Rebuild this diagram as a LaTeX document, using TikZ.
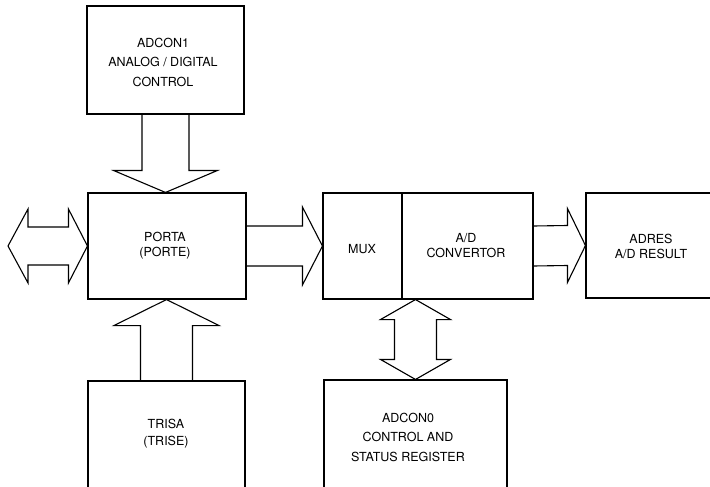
\documentclass[tikz,border=0pt]{standalone}
\usepackage{fontspec}
\setmainfont{TeX Gyre Heros}
\usetikzlibrary{calc}

\tikzset{
  regbox/.style={draw, rectangle, line width=1.1pt, inner sep=0pt},
  blk/.style={draw, line width=1.1pt, line join=miter},
  lbl/.style={align=center, inner sep=0pt, font=\fontsize{12.5}{15}\selectfont},
  lblwide/.style={lbl, font=\fontsize{12.5}{19.5}\selectfont},
}

\begin{document}
\begin{tikzpicture}[x=1pt, y=-1pt]
  \useasboundingbox (0,0) rectangle (710,487);
  \clip (0,0) rectangle (710,487);

  % register blocks (the lower ones and ADRES run off the sheet)
  \node[regbox, minimum width=157pt, minimum height=108pt] (adcon1) at (165.5,60) {};
  \node[regbox, minimum width=158pt, minimum height=106pt] (porta) at (167,246) {};
  \node[regbox, minimum width=79pt,  minimum height=106pt] (mux) at (362.5,246) {};
  \node[regbox, minimum width=131pt, minimum height=106pt] (adc) at (467.5,246) {};
  \node[regbox, minimum width=144pt, minimum height=105pt] (adres) at (658,245.5) {};
  \node[regbox, minimum width=183pt, minimum height=120pt] (adcon0) at (415.5,440) {};
  \node[regbox, minimum width=157pt, minimum height=119pt] (trisa) at (166.5,440.5) {};

  % labels
  \node[lblwide] (t-adcon1) at (163,62) {ADCON1\\ANALOG / DIGITAL\\CONTROL};
  \node[lbl] (t-porta) at (165,246) {PORTA\\(PORTE)};
  \node[lbl] (t-mux) at (362,249) {MUX};
  \node[lbl] (t-adc) at (466,246) {A/D\\CONVERTOR};
  \node[lbl] (t-adres) at (651,246) {ADRES\\A/D RESULT};
  \node[lbl, font=\fontsize{12.5}{17}\selectfont] (t-trisa) at (166,433.5) {TRISA\\(TRISE)};
  \node[lblwide] (t-adcon0) at (408,437) {ADCON0\\CONTROL AND\\STATUS REGISTER};

  % ADCON1 -> PORTA
  \coordinate (a1) at (adcon1.south);
  \coordinate (a2) at (adcon1.south |- porta.north);
  \draw[blk] ($(a1)+(-23.5,0)$) -- ($(a2)+(-23.5,-22)$) -- ($(a2)+(-52,-22)$) -- (a2)
    -- ($(a2)+(52,-22)$) -- ($(a2)+(23.5,-22)$) -- ($(a1)+(23.5,0)$);

  % TRISA -> PORTA
  \coordinate (b1) at (trisa.north);
  \coordinate (b2) at (trisa.north |- porta.south);
  \draw[blk] ($(b1)+(-26,0)$) -- ($(b2)+(-26,26)$) -- ($(b2)+(-52.5,26)$) -- (b2)
    -- ($(b2)+(52.5,26)$) -- ($(b2)+(26,26)$) -- ($(b1)+(26,0)$);

  % port pins <-> PORTA
  \coordinate (pins) at (8,246);
  \draw[blk] (pins) -- ($(pins)+(20,-37)$) -- ($(pins)+(20,-19)$) -- ($(porta.west)+(-19,-19)$)
    -- ($(porta.west)+(-19,-37)$) -- (porta.west) -- ($(porta.west)+(-19,37)$)
    -- ($(porta.west)+(-19,19)$) -- ($(pins)+(20,19)$) -- ($(pins)+(20,37)$) -- cycle;

  % PORTA -> MUX
  \draw[blk] ($(porta.east)+(0,-20)$) -- ($(mux.west)+(-20,-20)$) -- ($(mux.west)+(-20,-39)$)
    -- (mux.west) -- ($(mux.west)+(-20,39)$) -- ($(mux.west)+(-20,20)$) -- ($(porta.east)+(0,20)$);

  % A/D -> ADRES
  \draw[blk] ($(adc.east)+(0,-20)$) -- ($(adres.west)+(-18,-20)$) -- ($(adres.west)+(-18,-37)$)
    -- (adres.west) -- ($(adres.west)+(-18,37)$) -- ($(adres.west)+(-18,20)$) -- ($(adc.east)+(0,20)$);

  % A/D <-> ADCON0
  \coordinate (d1) at (adcon0.north);
  \coordinate (d2) at (adcon0.north |- adc.south);
  \draw[blk] (d2) -- ($(d2)+(35,20)$) -- ($(d2)+(21,20)$) -- ($(d1)+(21,-20)$) -- ($(d1)+(35,-20)$)
    -- (d1) -- ($(d1)+(-35,-20)$) -- ($(d1)+(-21,-20)$) -- ($(d2)+(-21,20)$) -- ($(d2)+(-35,20)$) -- cycle;
\end{tikzpicture}
\end{document}
